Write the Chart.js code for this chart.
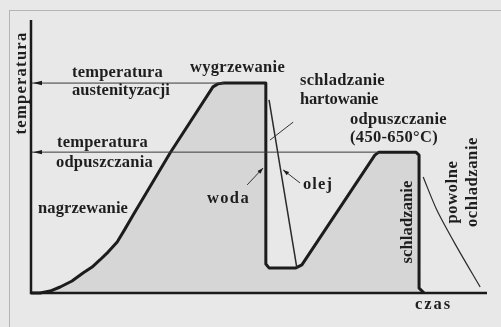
<!DOCTYPE html>
<html>
<head>
<meta charset="utf-8">
<script src="https://cdn.jsdelivr.net/npm/chart.js@4.4.1/dist/chart.umd.min.js"></script>
<style>
  html, body { margin: 0; padding: 0; background: #e8e8e8; }
  #wrap { position: relative; width: 501px; height: 327px; overflow: hidden; }
  #ramka { position: absolute; left: 9px; top: 10px; width: 600px; height: 400px;
           border-left: 1px solid #b4b4b4; border-top: 1px solid #b4b4b4; }
  canvas { position: absolute; left: 0; top: 0; }
</style>
</head>
<body>
<div id="wrap">
  <div id="ramka"></div>
  <canvas id="wykres" width="501" height="327"></canvas>
</div>
<script>
// czas i temperatura w jednostkach umownych (0-100)
const czasGlowny = [0, 2.0, 4.2, 6.4, 9.0, 11.4, 13.4, 15.1, 16.9, 18.9, 20.6, 22.4, 30.5, 39.9, 41.0, 42.3, 51.5, 51.5, 52.2, 58.1, 59.4, 75.4, 76.3, 84.4, 85.1, 85.1, 86.2];
const tempGlowna = [0, 0, 0.7, 2.2, 4.4, 7.3, 9.5, 12.1, 15.0, 18.7, 23.4, 28.6, 51.3, 75.5, 76.6, 76.9, 76.9, 10.6, 9.2, 9.2, 10.3, 50.5, 51.6, 51.6, 50.5, 1.8, 0];

const czasOlej = [52.2, 58.3];
const tempOlej = [70.7, 9.2];

const czasPowolne = [86.0, 89.0, 93.4, 98.5];
const tempPowolne = [42.5, 30.4, 16.8, 2.2];

const tempAustenityzacji = 76.9;
const tempOdpuszczania = 51.6;
const koniecAustenityzacji = 42.3;
const koniecOdpuszczania = 76.3;

const punkty = (xs, ys) => xs.map((x, i) => ({ x: x, y: ys[i] }));

const CZCIONKA = '"Liberation Serif", "DejaVu Serif", serif';
const KOLOR_TEKSTU = '#1e1e1e';

// napisy: tekst, lewa krawedz / srodek, szerokosc docelowa
const napisy = [
  { t: 'temperatura', x: 72, y: 73, w: 91 },
  { t: 'austenityzacji', x: 72, y: 91, w: 98 },
  { t: 'temperatura', x: 57, y: 143, w: 91 },
  { t: 'odpuszczania', x: 56, y: 163, w: 97 },
  { t: 'wygrzewanie', x: 190, y: 68, w: 95 },
  { t: 'schladzanie', x: 300, y: 81, w: 85 },
  { t: 'hartowanie', x: 300, y: 100, w: 78 },
  { t: 'odpuszczanie', x: 350, y: 120, w: 97 },
  { t: '(450-650°C)', x: 350, y: 138, w: 88 },
  { t: 'nagrzewanie', x: 38, y: 209, w: 90 },
  { t: 'woda', x: 207, y: 199, w: 43 },
  { t: 'olej', x: 303, y: 185, w: 30 },
  { t: 'czas', x: 415, y: 305, w: 37 }
];
const napisyPionowe = [
  { t: 'temperatura', x: 22, y: 83, w: 103 },
  { t: 'schladzanie', x: 408, y: 222, w: 83 },
  { t: 'powolne', x: 453, y: 192, w: 63 },
  { t: 'ochladzanie', x: 473, y: 182, w: 90 }
];

// linie odniesienia do opisow [x1, y1, x2, y2, grot]
const odnosniki = [
  [57.5, 62.6, 52.4, 56.0, false],
  [47.4, 39.6, 50.9, 45.8, true],
  [59.0, 40.3, 55.3, 45.1, true]
];

function tekst(ctx, n) {
  ctx.font = 'bold 16.5px ' + CZCIONKA;
  ctx.letterSpacing = '0px';
  const w0 = ctx.measureText(n.t).width;
  const odstep = (n.w - w0) / n.t.length;
  ctx.letterSpacing = odstep.toFixed(2) + 'px';
}

function grot(ctx, x1, y1, x2, y2, dl, szer) {
  const a = Math.atan2(y2 - y1, x2 - x1);
  ctx.beginPath();
  ctx.moveTo(x2, y2);
  ctx.lineTo(x2 - dl * Math.cos(a) + szer * Math.sin(a), y2 - dl * Math.sin(a) - szer * Math.cos(a));
  ctx.lineTo(x2 - dl * Math.cos(a) - szer * Math.sin(a), y2 - dl * Math.sin(a) + szer * Math.cos(a));
  ctx.closePath();
  ctx.fill();
}

const opisy = {
  id: 'opisy',
  afterDatasetsDraw(chart) {
    const ctx = chart.ctx;
    const sx = chart.scales.x, sy = chart.scales.y;
    const a = chart.chartArea;
    ctx.save();

    // osie
    ctx.strokeStyle = '#1a1a1a';
    ctx.lineWidth = 2.5;
    ctx.beginPath();
    ctx.moveTo(a.left, a.top);
    ctx.lineTo(a.left, a.bottom);
    ctx.lineTo(a.right, a.bottom);
    ctx.stroke();

    // groty przy osi temperatury
    ctx.fillStyle = '#1a1a1a';
    [tempAustenityzacji, tempOdpuszczania].forEach(T => {
      const py = sy.getPixelForValue(T);
      grot(ctx, a.left + 14, py, a.left + 2, py, 9, 2.2);
    });

    // odnosniki
    ctx.strokeStyle = '#333';
    ctx.lineWidth = 1;
    odnosniki.forEach(o => {
      const x1 = sx.getPixelForValue(o[0]), y1 = sy.getPixelForValue(o[1]);
      const x2 = sx.getPixelForValue(o[2]), y2 = sy.getPixelForValue(o[3]);
      ctx.beginPath();
      ctx.moveTo(x1, y1);
      ctx.lineTo(x2, y2);
      ctx.stroke();
      if (o[4]) grot(ctx, x1, y1, x2, y2, 6, 2);
    });

    ctx.fillStyle = KOLOR_TEKSTU;
    ctx.textBaseline = 'middle';
    ctx.textAlign = 'left';
    napisy.forEach(n => {
      tekst(ctx, n);
      ctx.fillText(n.t, n.x, n.y);
    });
    napisyPionowe.forEach(n => {
      ctx.save();
      ctx.translate(n.x, n.y);
      ctx.rotate(-Math.PI / 2);
      tekst(ctx, n);
      ctx.textAlign = 'center';
      ctx.fillText(n.t, 0, 0);
      ctx.restore();
    });
    ctx.restore();
  }
};

new Chart(document.getElementById('wykres'), {
  type: 'line',
  data: {
    datasets: [
      {
        data: punkty(czasGlowny, tempGlowna),
        borderColor: '#1c1c1c',
        borderWidth: 3,
        borderJoinStyle: 'round',
        backgroundColor: '#d6d6d6',
        fill: 'origin',
        pointRadius: 0,
        tension: 0,
        clip: false,
        order: 2
      },
      {
        data: punkty([0, koniecAustenityzacji], [tempAustenityzacji, tempAustenityzacji]),
        borderColor: '#3a3a3a',
        borderWidth: 1,
        pointRadius: 0,
        clip: false,
        order: 1
      },
      {
        data: punkty([0, koniecOdpuszczania], [tempOdpuszczania, tempOdpuszczania]),
        borderColor: '#3a3a3a',
        borderWidth: 1,
        pointRadius: 0,
        clip: false,
        order: 1
      },
      {
        data: punkty(czasOlej, tempOlej),
        borderColor: '#2a2a2a',
        borderWidth: 1.5,
        pointRadius: 0,
        clip: false,
        order: 1
      },
      {
        data: punkty(czasPowolne, tempPowolne),
        borderColor: '#2a2a2a',
        borderWidth: 1.2,
        pointRadius: 0,
        tension: 0.3,
        clip: false,
        order: 1
      }
    ]
  },
  options: {
    responsive: false,
    animation: false,
    layout: { padding: { left: 31, top: 20, right: 14, bottom: 34 } },
    plugins: { legend: { display: false }, tooltip: { enabled: false } },
    scales: {
      x: { type: 'linear', min: 0, max: 100, display: false },
      y: { type: 'linear', min: 0, max: 100, display: false }
    }
  },
  plugins: [opisy]
});
</script>
</body>
</html>
